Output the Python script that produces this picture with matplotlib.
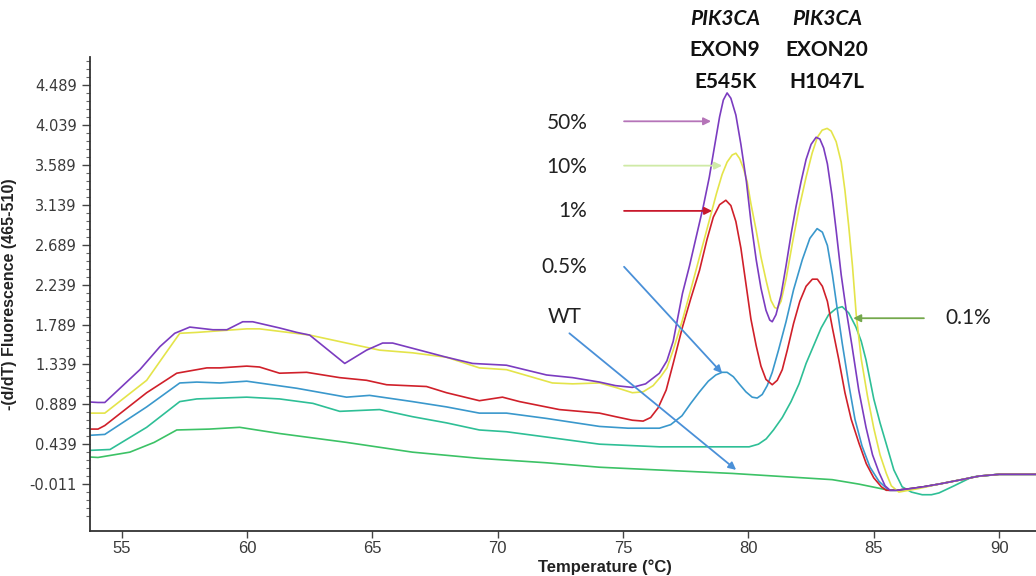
import matplotlib
matplotlib.use("Agg")
import matplotlib.pyplot as plt
from matplotlib.ticker import FixedLocator

# ---------------- data ----------------
tail_T = [85.9, 86.5, 87.0, 87.6, 88.5, 89.2, 90.0, 91.47]
tail_v = [-0.08, -0.06, -0.04, -0.01, 0.04, 0.08, 0.10, 0.10]

t_50 = [53.74, 54.06, 54.33, 55.73, 56.53, 57.12, 57.72, 58.64, 59.2, 59.83, 60.23, 61.3, 61.99, 62.5,
        63.9, 64.77, 65.41, 65.81, 67.96, 69.0, 70.35, 71.95, 72.99,
        74.06, 74.7, 75.37, 75.9, 76.45, 76.75, 77.0, 77.37, 77.65, 77.92, 78.2, 78.44, 78.65, 78.85,
        79.0, 79.15, 79.3, 79.5, 79.7, 79.92, 80.1, 80.31, 80.5, 80.7, 80.85, 80.95, 81.1, 81.3, 81.5,
        81.71, 81.9, 82.1, 82.3, 82.5, 82.7, 82.85, 83.0, 83.15, 83.33, 83.5, 83.7, 83.9, 84.13, 84.4,
        84.69, 84.95, 85.21, 85.45, 85.65] + tail_T
v_50 = [0.915, 0.91, 0.91, 1.28, 1.54, 1.69, 1.76, 1.73, 1.73, 1.82, 1.82, 1.75, 1.70, 1.67,
        1.35, 1.50, 1.58, 1.58, 1.42, 1.35, 1.33, 1.22, 1.19,
        1.14, 1.10, 1.08, 1.12, 1.24, 1.38, 1.60, 2.14, 2.45, 2.78, 3.12, 3.45, 3.80, 4.13,
        4.32, 4.40, 4.34, 4.15, 3.82, 3.40, 2.95, 2.52, 2.20, 1.95, 1.84, 1.82, 1.90, 2.12, 2.45,
        2.82, 3.12, 3.40, 3.65, 3.82, 3.90, 3.88, 3.78, 3.60, 3.25, 2.85, 2.35, 1.95, 1.55, 1.05,
        0.63, 0.32, 0.12, -0.03, -0.08] + tail_v

t_10 = [53.74, 54.33, 56.0, 56.72, 57.32, 58.0, 59.99, 60.5, 62.5, 63.97, 65.29, 66.6, 67.96, 69.27,
        70.35, 72.18, 72.99,
        74.06, 74.7, 75.37, 75.8, 76.2, 76.5, 76.75, 77.0, 77.37, 77.7, 78.05, 78.4, 78.73, 78.95,
        79.15, 79.35, 79.5, 79.65, 79.8, 79.95, 80.1, 80.31, 80.5, 80.71, 80.9, 81.05, 81.15, 81.3,
        81.5, 81.75, 82.02, 82.3, 82.54, 82.75, 82.94, 83.14, 83.3, 83.5, 83.7, 83.85, 84.0, 84.15,
        84.3, 84.5, 84.75, 85.0, 85.25, 85.5, 85.7, 86.0] + [86.8, 87.6, 88.5, 89.2, 90.0, 91.47]
v_10 = [0.79, 0.79, 1.16, 1.45, 1.69, 1.70, 1.74, 1.74, 1.67, 1.58, 1.50, 1.47, 1.42, 1.30,
        1.28, 1.13, 1.12,
        1.13, 1.08, 1.02, 1.03, 1.10, 1.20, 1.30, 1.50, 1.84, 2.18, 2.55, 2.92, 3.27, 3.48,
        3.62, 3.70, 3.72, 3.66, 3.55, 3.40, 3.15, 2.85, 2.55, 2.28, 2.06, 1.98, 1.97, 2.05,
        2.30, 2.70, 3.10, 3.45, 3.72, 3.90, 3.98, 4.00, 3.97, 3.85, 3.62, 3.30, 2.90, 2.45,
        1.90, 1.40, 0.98, 0.62, 0.32, 0.11, -0.03, -0.10] + [-0.06, -0.01, 0.04, 0.08, 0.10, 0.10]

t_1 = [53.74, 54.06, 54.33, 56.0, 57.2, 58.4, 58.92, 59.99, 60.5, 61.3, 62.38, 63.7, 64.77, 65.57,
       67.16, 67.96, 69.27, 70.19, 70.87, 72.46,
       74.06, 74.7, 75.37, 75.8, 76.1, 76.4, 76.72, 77.0, 77.37, 77.7, 78.05, 78.35, 78.6, 78.85,
       79.1, 79.3, 79.5, 79.7, 79.9, 80.1, 80.31, 80.5, 80.7, 80.95, 81.15, 81.35, 81.55, 81.8,
       82.05, 82.3, 82.55, 82.75, 82.95, 83.15, 83.35, 83.6, 83.85, 84.1, 84.41, 84.7, 85.0,
       85.3, 85.5] + tail_T
v_1 = [0.61, 0.61, 0.65, 1.02, 1.24, 1.30, 1.30, 1.32, 1.31, 1.24, 1.25, 1.19, 1.16, 1.11,
       1.09, 1.02, 0.93, 0.97, 0.92, 0.83,
       0.79, 0.75, 0.71, 0.70, 0.74, 0.85, 1.05, 1.35, 1.76, 2.08, 2.40, 2.75, 3.00, 3.14,
       3.19, 3.13, 2.95, 2.65, 2.25, 1.85, 1.55, 1.32, 1.17, 1.11, 1.16, 1.28, 1.50, 1.80,
       2.05, 2.22, 2.30, 2.30, 2.22, 2.05, 1.75, 1.40, 1.02, 0.72, 0.45, 0.22, 0.06,
       -0.04, -0.08] + tail_v

t_05 = [53.74, 54.33, 56.0, 57.32, 58.0, 58.92, 59.99, 61.99, 63.97, 64.89, 66.6, 67.96, 69.27, 70.35,
        71.95,
        74.06, 75.2, 76.45, 76.9, 77.35, 77.7, 78.05, 78.4, 78.7, 78.95, 79.15, 79.4, 79.63, 79.9,
        80.15, 80.35, 80.55, 80.75, 80.95, 81.2, 81.5, 81.8, 82.15, 82.45, 82.74, 82.95, 83.15,
        83.35, 83.55, 83.74, 84.0, 84.25, 84.53, 84.85, 85.21, 85.6] + tail_T
v_05 = [0.54, 0.55, 0.86, 1.13, 1.14, 1.13, 1.15, 1.07, 0.97, 0.99, 0.92, 0.86, 0.79, 0.79,
        0.73,
        0.64, 0.62, 0.62, 0.66, 0.76, 0.90, 1.03, 1.15, 1.22, 1.25, 1.25, 1.20, 1.12, 1.03,
        0.97, 0.96, 1.00, 1.10, 1.25, 1.50, 1.82, 2.18, 2.52, 2.76, 2.87, 2.83, 2.68,
        2.35, 1.95, 1.58, 1.12, 0.72, 0.42, 0.18, 0.02, -0.08] + tail_v

t_01 = [53.74, 54.54, 56.0, 57.32, 58.0, 59.99, 61.3, 62.63, 63.7, 65.29, 66.6, 67.96, 69.27, 70.35,
        71.95,
        74.06, 76.45, 78.5, 80.03, 80.4, 80.71, 81.0, 81.35, 81.7, 82.02, 82.3, 82.6, 82.9, 83.2,
        83.5, 83.74, 84.0, 84.29, 84.5, 84.69, 85.0, 85.25, 85.49, 85.8, 86.13, 86.5, 86.93, 87.3,
        87.6, 88.2, 88.92, 90.0, 91.47]
v_01 = [0.37, 0.38, 0.63, 0.92, 0.95, 0.97, 0.95, 0.90, 0.81, 0.83, 0.75, 0.68, 0.60, 0.58,
        0.52,
        0.44, 0.41, 0.41, 0.41, 0.44, 0.50, 0.60, 0.74, 0.92, 1.12, 1.35, 1.55, 1.75, 1.90,
        1.97, 1.99, 1.92, 1.76, 1.60, 1.39, 0.95, 0.68, 0.45, 0.15, -0.04, -0.10, -0.13, -0.13,
        -0.11, -0.03, 0.07, 0.10, 0.10]

t_wt = [53.74, 54.06, 55.33, 56.3, 57.2, 58.5, 59.71, 61.3, 63.97, 66.6, 69.27, 71.95, 74.06,
        79.36, 83.34, 84.4, 85.61] + tail_T
v_wt = [0.295, 0.29, 0.35, 0.46, 0.60, 0.61, 0.63, 0.56, 0.46, 0.35, 0.28, 0.23, 0.18,
        0.11, 0.04, -0.01, -0.08] + tail_v

y_ticks = [-0.011, 0.439, 0.889, 1.339, 1.789, 2.239, 2.689, 3.139, 3.589, 4.039, 4.489]
x_ticks = [55, 60, 65, 70, 75, 80, 85, 90]

series = [
    ("WT", t_wt, v_wt, "#3cc266"),
    ("0.1%", t_01, v_01, "#2ebf96"),
    ("0.5%", t_05, v_05, "#3a98cc"),
    ("1%", t_1, v_1, "#d0202a"),
    ("10%", t_10, v_10, "#e4e44a"),
    ("50%", t_50, v_50, "#7b3cc0"),
]

# label text, text position, arrow tail, arrow head, arrow colour, horizontal alignment
labels = [
    ("50%", (73.57, 4.06), (75.04, 4.08), (78.51, 4.08), "#b574b8", "right"),
    ("10%", (73.57, 3.565), (75.04, 3.58), (78.95, 3.58), "#cfeaa6", "right"),
    ("1%", (73.57, 3.07), (75.04, 3.07), (78.55, 3.07), "#c8192c", "right"),
    ("0.5%", (73.57, 2.44), (75.04, 2.44), (78.95, 1.24), "#4a90d8", "right"),
    ("WT", (72.66, 1.87), (72.86, 1.69), (79.51, 0.15), "#4a90d8", "center"),
    ("0.1%", (87.84, 1.86), (87.0, 1.86), (84.18, 1.86), "#74a84c", "left"),
]

genes = [
    (79.07, ["PIK3CA", "EXON9", "E545K"]),
    (83.13, ["PIK3CA", "EXON20", "H1047L"]),
]
gene_rows_y = [5.23, 4.88, 4.52]

# ---------------- figure ----------------
fig = plt.figure(figsize=(10.36, 5.76), dpi=100)
ax = fig.add_axes([90 / 1036, 45 / 576, 946 / 1036, 474 / 576])

for name, t, v, c in series:
    ax.plot(t, v, color=c, lw=1.2, solid_joinstyle="round")

ax.set_xlim(53.74, 91.47)
ax.set_ylim(-0.539, 4.805)

ax.xaxis.set_major_locator(FixedLocator(x_ticks))
ax.yaxis.set_major_locator(FixedLocator(y_ticks))
ax.yaxis.set_minor_locator(FixedLocator(
    [y_ticks[0] + 0.09 * k for k in range(-5, 55) if (k % 5) != 0]))
ax.set_yticklabels([f"{v:.3f}" for v in y_ticks])

for s in ["top", "right"]:
    ax.spines[s].set_visible(False)
for s in ["left", "bottom"]:
    ax.spines[s].set_color("#333333")
    ax.spines[s].set_linewidth(1.3)

ax.tick_params(axis="both", which="major", direction="out", length=6, width=1.0,
               colors="#444444", labelsize=10.5, labelcolor="#3a3a3a")
ax.tick_params(axis="x", which="major", length=5, pad=2.5)
ax.tick_params(axis="y", which="minor", direction="out", length=3, width=0.8, colors="#666666")
for lab in ax.get_yticklabels():
    lab.set_family("DejaVu Sans")
for lab in ax.get_xticklabels():
    lab.set_family("Liberation Sans")
    lab.set_fontsize(12)

ax.set_ylabel("-(d/dT) Fluorescence (465-510)", family="Liberation Sans", fontweight="bold",
              fontsize=11.5, color="#222222")
ax.yaxis.set_label_coords(-0.077, 0.5)
ax.set_xlabel("Temperature (°C)", family="Liberation Sans", fontweight="bold", fontsize=12,
              color="#222222")
ax.xaxis.set_label_coords(0.544, -0.061)

calib = ["Lato", "Open Sans", "DejaVu Sans"]
for text, tpos, tail, head, col, ha in labels:
    ax.text(tpos[0], tpos[1], text, ha=ha, va="center", fontsize=15, family=calib,
            color="#222222", clip_on=False)
    ax.annotate("", xy=head, xytext=tail,
                arrowprops=dict(arrowstyle="-|>", color=col, lw=1.3, mutation_scale=11,
                                shrinkA=0, shrinkB=0),
                annotation_clip=False)

for xc, rows in genes:
    for i, (txt, yy) in enumerate(zip(rows, gene_rows_y)):
        ax.text(xc, yy, txt, ha="center", va="center", fontsize=15, family=calib,
                fontweight="bold", fontstyle="italic" if i == 0 else "normal",
                color="#111111", clip_on=False)

fig.savefig("out.png", dpi=100)
